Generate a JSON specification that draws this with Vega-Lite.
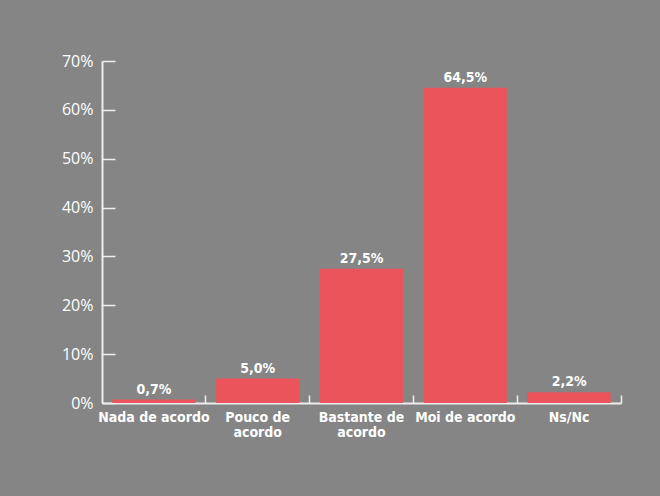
{
  "$schema": "https://vega.github.io/schema/vega-lite/v6.json",
  "width": 519,
  "height": 342,
  "autosize": {"type": "none"},
  "padding": {"left": 102, "top": 61, "right": 39, "bottom": 93},
  "background": "#858585",
  "config": {
    "view": {"stroke": null},
    "locale": {"number": {"decimal": ",", "thousands": ".", "grouping": [3], "currency": ["", " €"]}}
  },
  "data": {
    "values": [
      {"cat": "Nada de acordo", "value": 0.007},
      {"cat": "Pouco de|acordo", "value": 0.05},
      {"cat": "Bastante de|acordo", "value": 0.275},
      {"cat": "Moi de acordo", "value": 0.645},
      {"cat": "Ns/Nc", "value": 0.022}
    ]
  },
  "encoding": {
    "x": {
      "field": "cat", "type": "nominal", "sort": null, "title": null,
      "scale": {"paddingInner": 0, "paddingOuter": 0},
      "axis": {
        "labelAngle": 0,
        "labelExpr": "split(datum.label, '|')",
        "labelFont": "DejaVu Sans Condensed",
        "labelFontWeight": "bold",
        "labelFontSize": 14,
        "labelColor": "white",
        "labelLineHeight": 15,
        "labelBaseline": "top",
        "labelPadding": 15,
        "bandPosition": 1,
        "tickSize": -8,
        "tickColor": "#eeeeee",
        "tickWidth": 1.5,
        "domainColor": "#eeeeee",
        "domainWidth": 2
      }
    },
    "y": {
      "field": "value", "type": "quantitative", "title": null,
      "scale": {"domain": [0, 0.7], "nice": false},
      "axis": {
        "format": ".0%",
        "values": [0, 0.1, 0.2, 0.3, 0.4, 0.5, 0.6, 0.7],
        "grid": false,
        "labelFont": "Open Sans",
        "labelFontSize": 16,
        "labelColor": "white",
        "labelPadding": 22,
        "tickSize": -13,
        "tickColor": "#eeeeee",
        "tickWidth": 1.5,
        "domainColor": "#eeeeee",
        "domainWidth": 2
      }
    }
  },
  "layer": [
    {"mark": {"type": "bar", "color": "#EB545B", "width": {"band": 0.8}}},
    {
      "mark": {"type": "text", "color": "white", "font": "DejaVu Sans Condensed", "fontWeight": "bold", "fontSize": 14, "baseline": "alphabetic", "dy": -6},
      "encoding": {"text": {"field": "value", "type": "quantitative", "format": ".1%"}}
    }
  ]
}
